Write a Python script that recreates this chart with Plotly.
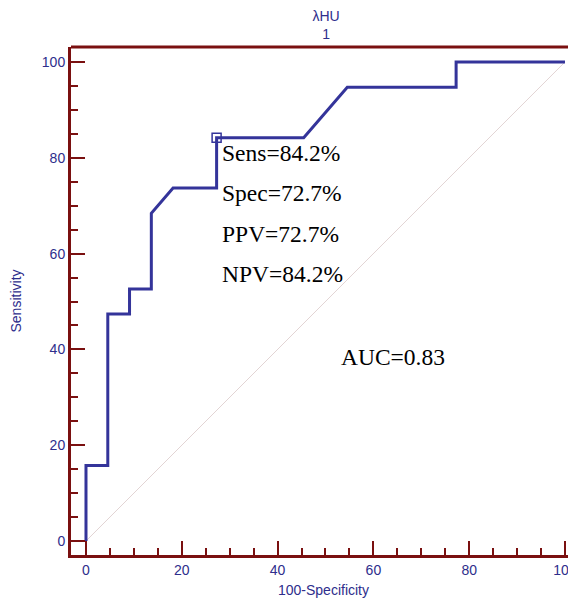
import plotly.graph_objects as go

# ROC curve data (100-Specificity, Sensitivity)
fpr = [0, 0, 4.55, 4.55, 9.09, 9.09, 13.64, 13.64, 18.18, 27.27, 27.27, 45.45, 54.55, 77.27, 77.27, 100]
tpr = [0, 15.79, 15.79, 47.37, 47.37, 52.63, 52.63, 68.42, 73.68, 73.68, 84.21, 84.21, 94.74, 94.74, 100, 100]
cut_x = [27.27]
cut_y = [84.21]
diag_x = [0, 100]
diag_y = [0, 100]
tick_vals = [0, 20, 40, 60, 80, 100]
stats_labels = ["Sens=84.2%", "Spec=72.7%", "PPV=72.7%", "NPV=84.2%"]
stats_y = [81.1, 72.7, 64.0, 55.7]
auc_label = "AUC=0.83"

axis_col = "#7a1010"
lab_col = "#2e2e8c"
curve_col = "#34349a"

fig = go.Figure()
fig.add_trace(go.Scatter(x=diag_x, y=diag_y, mode="lines",
                         line=dict(color="#e2d4d4", width=1), hoverinfo="skip"))
fig.add_trace(go.Scatter(x=fpr, y=tpr, mode="lines",
                         line=dict(color=curve_col, width=3)))
fig.add_trace(go.Scatter(x=cut_x, y=cut_y, mode="markers",
                         marker=dict(symbol="square-open", size=9, color=curve_col,
                                     line=dict(width=1.5, color=curve_col))))

for lab, yy in zip(stats_labels, stats_y):
    fig.add_annotation(x=28.0, y=yy, xref="x", yref="y", text=lab, showarrow=False,
                       xanchor="left", yanchor="middle",
                       font=dict(family="Liberation Serif", size=23.5, color="black"))
fig.add_annotation(x=52.9, y=38.4, xref="x", yref="y", text=auc_label, showarrow=False,
                   xanchor="left", yanchor="middle",
                   font=dict(family="Liberation Serif", size=23.5, color="black"))

axis_common = dict(
    showgrid=False, zeroline=False, showline=True, linecolor=axis_col, linewidth=3,
    ticks="inside", ticklen=14, tickwidth=2, tickcolor=axis_col,
    tickvals=tick_vals, tickfont=dict(family="Liberation Sans", size=14, color=lab_col),
    ticklabeloverflow="allow", automargin=False,
    minor=dict(ticks="inside", ticklen=7, tickwidth=2, tickcolor=axis_col, dtick=5, tick0=0, showgrid=False),
)

fig.update_xaxes(range=[-3.13, 102.3], title=dict(text="100-Specificity", standoff=9,
                 font=dict(family="Liberation Sans", size=14, color=lab_col)), **axis_common)
fig.update_yaxes(range=[-2.92, 103.13], title=dict(text="Sensitivity", standoff=17,
                 font=dict(family="Liberation Sans", size=14, color=lab_col)), **axis_common)

fig.add_shape(type="line", xref="paper", yref="paper", x0=0, x1=1.01, y0=1, y1=1,
              line=dict(color=axis_col, width=3))

fig.update_layout(
    width=568, height=590,
    margin=dict(l=63, r=0, t=39, b=43, autoexpand=False),
    plot_bgcolor="white", paper_bgcolor="white",
    showlegend=False,
    title=dict(text="λHU<br>1", x=0.56, xanchor="center", y=0.978, yanchor="top",
               automargin=False,
               font=dict(family="Liberation Sans", size=14, color=lab_col)),
)

fig.write_html("out.html")
